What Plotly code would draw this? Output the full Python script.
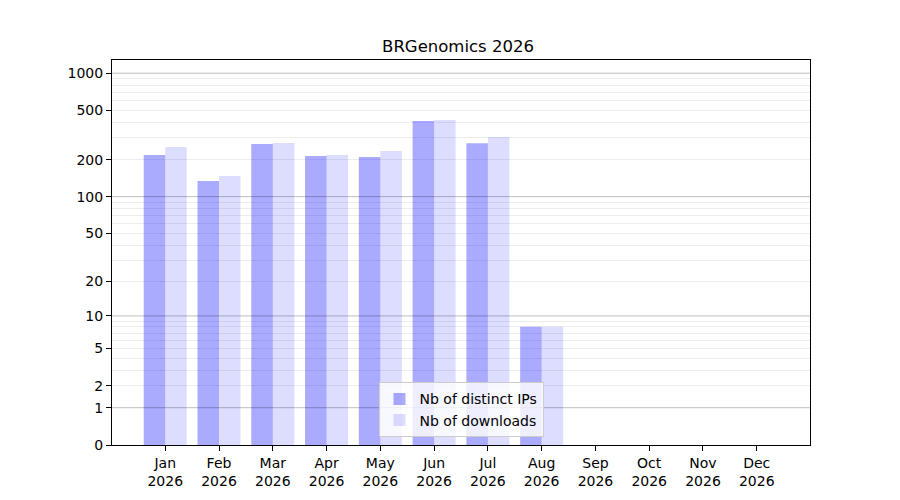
import plotly.graph_objects as go

# Monthly counts
months = ["Jan", "Feb", "Mar", "Apr", "May", "Jun", "Jul", "Aug", "Sep", "Oct", "Nov", "Dec"]
year = "2026"
distinct_ips = [218, 134, 268, 214, 210, 411, 272, 8, 0, 0, 0, 0]
downloads = [253, 147, 273, 218, 235, 419, 305, 8, 0, 0, 0, 0]

# y axis is log(1 + n): ticks labelled with n
major_ticks = [0, 1, 10, 100, 1000]
label_ticks = [0, 1, 2, 5, 10, 20, 50, 100, 200, 500, 1000]
minor_ticks = [k * d for d in (1, 10, 100) for k in range(2, 10)]

x = list(range(len(months)))

fig = go.Figure()
fig.add_trace(go.Bar(x=x, y=[v + 1 for v in distinct_ips], name="Nb of distinct IPs",
                     marker=dict(color="rgba(0,0,255,0.333)", line=dict(width=0))))
fig.add_trace(go.Bar(x=x, y=[v + 1 for v in downloads], name="Nb of downloads",
                     marker=dict(color="rgba(0,0,255,0.133)", line=dict(width=0))))

# darker major grid lines drawn as shapes so they look like matplotlib's
for t in major_ticks[1:]:
    fig.add_shape(type="line", xref="paper", x0=0, x1=1, yref="y", y0=t + 1, y1=t + 1,
                  line=dict(color="rgba(0,0,0,0.25)", width=1), layer="above")

# the page body adds an 8px offset, so margins are shifted to compensate
fig.update_layout(
    width=900, height=500,
    margin=dict(l=104, r=98, t=52, b=63),
    plot_bgcolor="white", paper_bgcolor="white",
    font=dict(family="DejaVu Sans", size=14, color="black"),
    title=dict(text="BRGenomics 2026", x=0.5, xanchor="center", y=1 - 38 / 500,
               yanchor="middle", font=dict(size=16.5)),
    barmode="group", bargap=0.2, bargroupgap=0,
    legend=dict(x=0.5, xanchor="center", y=0.02, yanchor="bottom",
                bgcolor="rgba(255,255,255,0.8)", bordercolor="#cccccc", borderwidth=1,
                font=dict(size=14)),
    showlegend=True,
)
fig.update_xaxes(
    range=[-0.99, 11.99], tickvals=x, ticktext=[f"{m}<br>{year}" for m in months],
    showgrid=False, zeroline=False, ticks="outside", ticklen=5, tickcolor="black",
    showline=True, linecolor="black", linewidth=1, mirror=True,
)
fig.update_yaxes(
    type="log", range=[0, 3.107],
    tickvals=[t + 1 for t in label_ticks], ticktext=[str(t) for t in label_ticks],
    showgrid=False, zeroline=False, ticks="outside", ticklen=5, tickcolor="black",
    showline=True, linecolor="black", linewidth=1, mirror=True,
    minor=dict(tickvals=[t + 1 for t in minor_ticks], showgrid=True,
               gridcolor="rgba(0,0,0,0.07)", gridwidth=1, ticks=""),
)

fig.write_html("out.html")
